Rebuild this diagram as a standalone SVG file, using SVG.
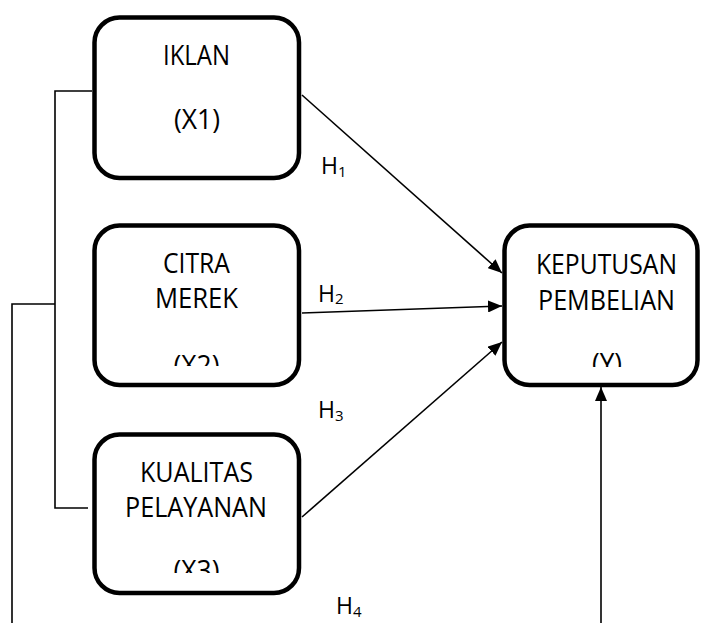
<svg xmlns="http://www.w3.org/2000/svg" width="701" height="623" viewBox="0 0 701 623">
<style>
.box{fill:#fff;stroke:#000;stroke-width:4.5}
.t{font-family:"Open Sans","Liberation Sans",sans-serif;font-size:26.5px;fill:#000;text-anchor:middle}
.h{font-family:"Open Sans","Liberation Sans",sans-serif;font-size:23px;fill:#000}
.s{font-size:15px}
.c{fill:none;stroke:#000;stroke-width:1.6}
</style>
<defs>
<marker id="arr" viewBox="0 0 14 12" refX="14" refY="6" markerWidth="14" markerHeight="12" markerUnits="userSpaceOnUse" orient="auto">
<path d="M0,0 L14,6 L0,12 Z" fill="#000"/>
</marker>
<clipPath id="cx2"><rect x="90" y="220" width="215" height="146"/></clipPath>
<clipPath id="cx3"><rect x="90" y="430" width="215" height="143"/></clipPath>
<clipPath id="cy"><rect x="500" y="220" width="201" height="147"/></clipPath>
</defs>
<g id="connectors">
<line class="c" x1="302" y1="95" x2="502" y2="273" marker-end="url(#arr)"/>
<line class="c" x1="302" y1="313" x2="502" y2="306" marker-end="url(#arr)"/>
<line class="c" x1="302" y1="517" x2="502" y2="342" marker-end="url(#arr)"/>
<line class="c" x1="601" y1="623" x2="601" y2="387" marker-end="url(#arr)"/>
<polyline class="c" points="92,91 55,91 55,508 88,508"/>
<polyline class="c" points="55,304 12,304 12,623"/>
</g>
<g id="labels">
<text class="h" x="321" y="174">H<tspan class="s" dy="3">1</tspan></text>
<text class="h" x="318" y="302">H<tspan class="s" dy="2">2</tspan></text>
<text class="h" x="318" y="418">H<tspan class="s" dy="3">3</tspan></text>
<text class="h" x="336" y="614">H<tspan class="s" dy="3">4</tspan></text>
</g>
<g id="iklan">
<rect class="box" x="94.5" y="17.5" width="204.5" height="160.5" rx="25"/>
<text class="t" x="196.5" y="65" textLength="67" lengthAdjust="spacingAndGlyphs">IKLAN</text>
<text class="t" x="197" y="129" textLength="46" lengthAdjust="spacingAndGlyphs">(X1)</text>
</g>
<g id="citra">
<rect class="box" x="94.5" y="225.5" width="204.5" height="159.5" rx="25"/>
<text class="t" x="196.5" y="273" textLength="67" lengthAdjust="spacingAndGlyphs">CITRA</text>
<text class="t" x="196.5" y="308" textLength="83" lengthAdjust="spacingAndGlyphs">MEREK</text>
<text class="t" x="196.5" y="375" clip-path="url(#cx2)" textLength="46" lengthAdjust="spacingAndGlyphs">(X2)</text>
</g>
<g id="kualitas">
<rect class="box" x="94.5" y="434.5" width="204.5" height="158.5" rx="25"/>
<text class="t" x="196.5" y="482" textLength="113" lengthAdjust="spacingAndGlyphs">KUALITAS</text>
<text class="t" x="196" y="517" textLength="142" lengthAdjust="spacingAndGlyphs">PELAYANAN</text>
<text class="t" x="196.5" y="580" clip-path="url(#cx3)" textLength="46" lengthAdjust="spacingAndGlyphs">(X3)</text>
</g>
<g id="keputusan">
<rect class="box" x="504.5" y="225.5" width="193" height="159.5" rx="25"/>
<text class="t" x="606.5" y="274" textLength="141" lengthAdjust="spacingAndGlyphs">KEPUTUSAN</text>
<text class="t" x="606.5" y="310" textLength="137" lengthAdjust="spacingAndGlyphs">PEMBELIAN</text>
<text class="t" x="607" y="373" clip-path="url(#cy)" textLength="30" lengthAdjust="spacingAndGlyphs">(Y)</text>
</g>
</svg>
